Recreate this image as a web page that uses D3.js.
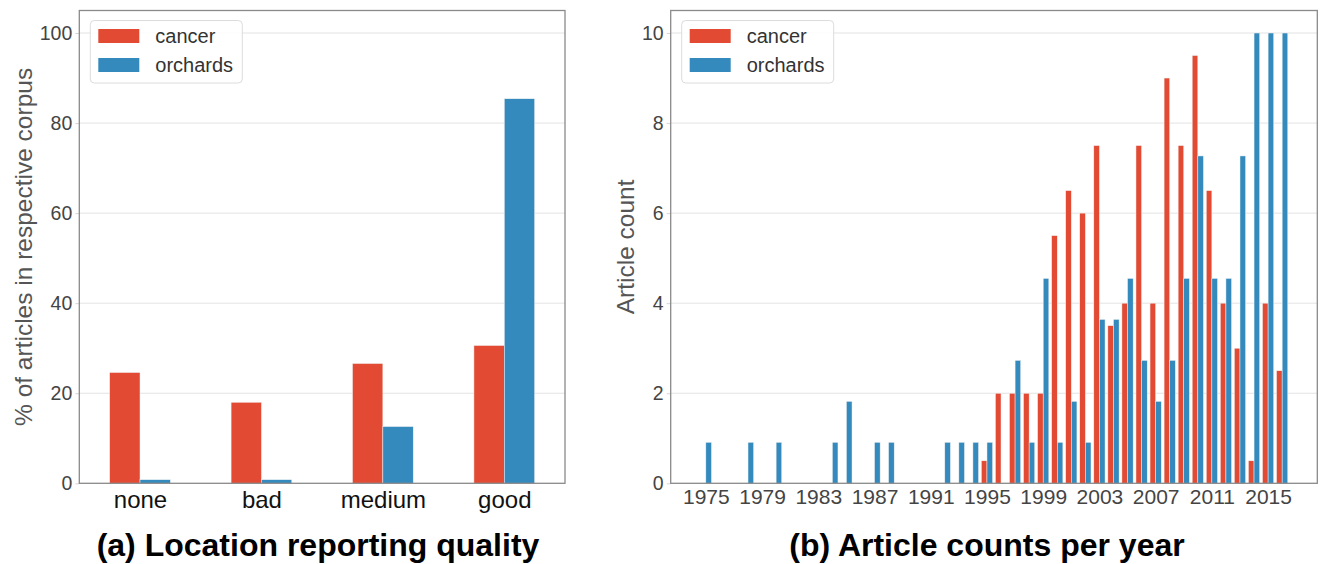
<!DOCTYPE html>
<html>
<head>
<meta charset="utf-8">
<script src="https://cdn.jsdelivr.net/npm/d3@7"></script>
<style>
  body { margin: 0; background: #fff; }
  svg { display: block; font-family: 'Liberation Sans', Arial, sans-serif; }
</style>
</head>
<body>
<svg id="chart" width="1322" height="564"></svg>
<script>
const seriesNames = ['cancer', 'orchards']
const seriesColors = ['#E24A33', '#348ABD']

// (a) location reporting quality, % of articles
const qualityLabels = ['none', 'bad', 'medium', 'good']
const qualityCancer = [24.6, 18.0, 26.6, 30.6]
const qualityOrchards = [0.8, 0.8, 12.6, 85.4]
const qualityTicks = [0, 20, 40, 60, 80, 100]

// (b) article counts per year
const years = [
  1975, 1976, 1977, 1978, 1979, 1980, 1981, 1982, 1983, 1984, 1985, 1986, 1987, 1988,
  1989, 1990, 1991, 1992, 1993, 1994, 1995, 1996, 1997, 1998, 1999, 2000, 2001, 2002,
  2003, 2004, 2005, 2006, 2007, 2008, 2009, 2010, 2011, 2012, 2013, 2014, 2015, 2016,
]
const yearCancer = [
  0, 0, 0, 0, 0, 0, 0, 0, 0, 0, 0, 0, 0, 0,
  0, 0, 0, 0, 0, 0, 0.5, 2, 2, 2, 2, 5.5, 6.5, 6,
  7.5, 3.5, 4, 7.5, 4, 9, 7.5, 9.5, 6.5, 4, 3, 0.5, 4, 2.5,
]
const yearOrchards = [
  0.91, 0, 0, 0.91, 0, 0.91, 0, 0, 0, 0.91, 1.82, 0, 0.91, 0.91,
  0, 0, 0, 0.91, 0.91, 0.91, 0.91, 0, 2.73, 0.91, 4.55, 0.91, 1.82, 0.91,
  3.64, 3.64, 4.55, 2.73, 1.82, 2.73, 4.55, 7.27, 4.55, 4.55, 7.27, 10, 10, 10,
]
const yearTicks = [1975, 1979, 1983, 1987, 1991, 1995, 1999, 2003, 2007, 2011, 2015]
const countTicks = [0, 2, 4, 6, 8, 10]

const svg = d3.select('#chart')

const drawPanel = (cfg) => {
  const { left, right, top, bottom } = cfg
  const g = svg.append('g')

  const x = d3.scaleLinear().domain(cfg.xDomain).range([left, right])
  const y = d3.scaleLinear().domain(cfg.yDomain).range([bottom, top])

  // grid
  g.append('g')
    .selectAll('line')
    .data(cfg.yTicks.filter((t) => t > 0))
    .join('line')
    .attr('x1', left)
    .attr('x2', right)
    .attr('y1', (d) => y(d))
    .attr('y2', (d) => y(d))
    .attr('stroke', '#e3e3e3')
    .attr('stroke-width', 1)

  // bars, one group per series
  cfg.values.forEach((vals, k) => {
    g.append('g')
      .attr('fill', seriesColors[k])
      .attr('stroke', '#f2f2f2')
      .attr('stroke-width', 0.5)
      .selectAll('rect')
      .data(vals.map((v, i) => ({ c: cfg.cats[i], v })).filter((d) => d.v > 0))
      .join('rect')
      .attr('x', (d) => x(d.c + (k - 1) * cfg.barWidth))
      .attr('width', (d) => x(d.c + k * cfg.barWidth) - x(d.c + (k - 1) * cfg.barWidth))
      .attr('y', (d) => y(d.v))
      .attr('height', (d) => y(0) - y(d.v))
  })

  // y axis
  g.append('g')
    .attr('transform', `translate(${left},0)`)
    .call(d3.axisLeft(y).tickValues(cfg.yTicks).tickSize(4).tickPadding(3))
    .call((a) => a.select('.domain').remove())
    .call((a) => a.selectAll('line').attr('stroke', '#d6d6d6'))
    .call((a) => a.selectAll('text').attr('fill', '#444').attr('font-size', 19.5))
    .attr('font-family', null)

  // x axis
  g.append('g')
    .attr('transform', `translate(0,${bottom})`)
    .call(d3.axisBottom(x).tickValues(cfg.xTicks).tickFormat(cfg.xFormat).tickSize(0).tickPadding(cfg.xPad))
    .call((a) => a.select('.domain').remove())
    .call((a) => a.selectAll('text').attr('fill', cfg.xColor).attr('font-size', cfg.xFont))
    .attr('font-family', null)

  // frame
  g.append('rect')
    .attr('x', left)
    .attr('y', top)
    .attr('width', right - left)
    .attr('height', bottom - top)
    .attr('fill', 'none')
    .attr('stroke', '#8a8a8a')
    .attr('stroke-width', 1.3)

  // legend
  const lg = g.append('g').attr('transform', `translate(${left + 11},${top + 10})`)
  lg.append('rect')
    .attr('width', 152)
    .attr('height', 62.5)
    .attr('rx', 4)
    .attr('fill', '#fff')
    .attr('fill-opacity', 0.85)
    .attr('stroke', '#dcdcdc')
  seriesNames.forEach((name, k) => {
    lg.append('rect')
      .attr('x', 8)
      .attr('y', 8.5 + k * 29)
      .attr('width', 41)
      .attr('height', 14)
      .attr('fill', seriesColors[k])
    lg.append('text')
      .attr('x', 65)
      .attr('y', 15.5 + k * 29)
      .attr('dy', '0.35em')
      .attr('font-size', 20)
      .attr('fill', '#333')
      .text(name)
  })

  // y label
  g.append('text')
    .attr('transform', `translate(${cfg.yLabelX},${(top + bottom) / 2}) rotate(-90)`)
    .attr('text-anchor', 'middle')
    .attr('dy', '0.35em')
    .attr('font-size', 24.5)
    .attr('fill', '#555')
    .text(cfg.yLabel)

  // caption
  g.append('text')
    .attr('x', cfg.titleX)
    .attr('y', 556)
    .attr('text-anchor', 'middle')
    .attr('font-size', 32)
    .attr('font-weight', 'bold')
    .attr('fill', '#000')
    .text(cfg.title)
}

drawPanel({
  left: 79.3,
  right: 565,
  top: 10.5,
  bottom: 483.3,
  cats: qualityLabels.map((_, i) => i),
  values: [qualityCancer, qualityOrchards],
  barWidth: 0.25,
  xDomain: [-0.5, 3.5],
  yDomain: [0, 105],
  yTicks: qualityTicks,
  xTicks: qualityLabels.map((_, i) => i),
  xFormat: (i) => qualityLabels[i],
  xPad: 7.5,
  xFont: 24,
  xColor: '#111',
  yLabel: '% of articles in respective corpus',
  yLabelX: 23,
  title: '(a) Location reporting quality',
  titleX: 318,
})

drawPanel({
  left: 670.7,
  right: 1317.3,
  top: 10.5,
  bottom: 483.3,
  cats: years,
  values: [yearCancer, yearOrchards],
  barWidth: 0.4,
  xDomain: [1972.5, 2018.5],
  yDomain: [0, 10.5],
  yTicks: countTicks,
  xTicks: yearTicks,
  xFormat: (d) => d,
  xPad: 6,
  xFont: 21,
  xColor: '#444',
  yLabel: 'Article count',
  yLabelX: 625,
  title: '(b) Article counts per year',
  titleX: 987,
})
</script>
</body>
</html>
